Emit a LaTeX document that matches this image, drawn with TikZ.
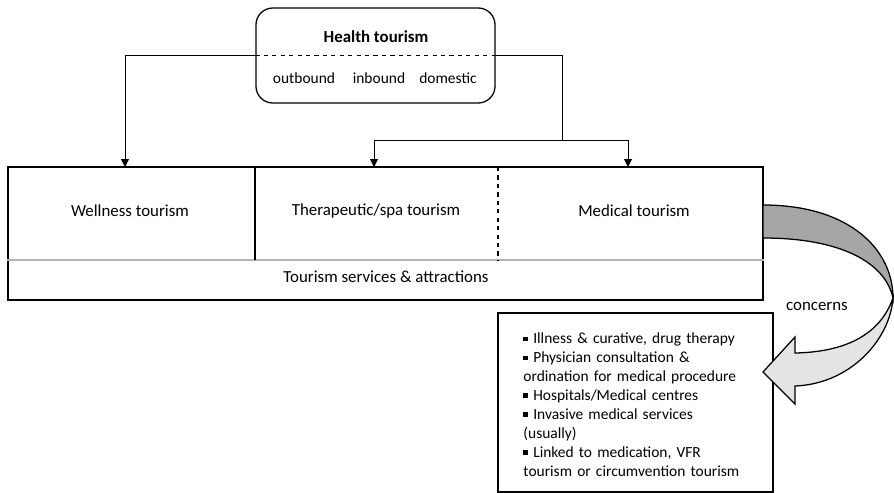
\documentclass[tikz,border=0pt]{standalone}
\usepackage{fontspec}
\setmainfont{Carlito}
\usetikzlibrary{arrows.meta,positioning,calc}
\definecolor{bandDark}{HTML}{A6A6A6}
\definecolor{bandLight}{HTML}{E4E4E4}
\newcommand{\sqbullet}{\rule[0.3ex]{0.3em}{0.3em}\ }

\begin{document}
\begin{tikzpicture}[x=0.025cm, y=-0.025cm,
    frame/.style={draw, line width=0.9pt, inner sep=0pt},
    label/.style={font=\fontsize{12}{14}\selectfont},
    small/.style={font=\fontsize{11}{13.5}\selectfont},
    arrow/.style={-{Triangle[length=2mm,width=2mm]}, line width=0.7pt}
]
\useasboundingbox (0,0) rectangle (894,493);

% Health tourism at top
\node[frame, rounded corners=12pt, minimum width=5.975cm, minimum height=2.375cm] (health) at (375.5,55.5) {};
\node[label, font=\fontsize{12}{14}\selectfont\bfseries] (htitle) at (376,37) {Health tourism};
\node[small] (outb) at (304,78) {outbound};
\node[small] (inb) at (379,78) {inbound};
\node[small] (dom) at (448,78) {domestic};
\draw[dashed, line width=0.9pt] (health.west) -- (health.east);

% Main box with the three forms
\node[frame, minimum width=18.875cm, minimum height=3.325cm] (offer) at (385.5,233.5) {};
\node[label] (wellness) at (130,211) {Wellness tourism};
\node[label] (therapy) at (376,211) {Therapeutic/spa tourism};
\node[label] (medical) at (634,211) {Medical tourism};
\node[label] (services) at (386,277) {Tourism services \& attractions};
\coordinate (divL) at (offer.west |- 0,260);
\coordinate (divR) at (offer.east |- 0,260);
\draw[gray!60, line width=0.9pt] (divL) -- (divR);
\draw[line width=1.4pt] (255,167) -- (255,260);
\draw[dashed, line width=0.8pt] (498,167) -- (498,260);

% Connectors from health tourism
\coordinate (inW) at (125,167);
\coordinate (inT) at (374,167);
\coordinate (inM) at (628,167);
\coordinate (split) at (562,140);
\draw[arrow] (health.west) -| (inW);
\draw[line width=0.7pt] (health.east) -| (split);
\draw[arrow] (split) -| (inT);
\draw[arrow] (split) -| (inM);

% Medical tourism concerns
\node[frame, minimum width=6.875cm, minimum height=4.475cm] (concern) at (635.5,402.5) {};
\node[small, text width=5.6cm, align=left] (items) at (635.5,404.5) {%
\sqbullet Illness \& curative, drug therapy\\
\sqbullet Physician consultation \&\\
ordination for medical procedure\\
\sqbullet Hospitals/Medical centres\\
\sqbullet Invasive medical services\\
(usually)\\
\sqbullet Linked to medication, VFR\\
tourism or circumvention tourism};

% Curved arrow
\filldraw[fill=bandDark, line width=0.9pt] (763,205) .. controls (850,205) and (893,250) .. (893,298)
    .. controls (885,262) and (840,238) .. (763,238) -- cycle;
\filldraw[fill=bandLight, line width=0.9pt] (893,298) .. controls (880,335) and (845,352) .. (795,353)
    -- (795,337) -- (763,372) -- (795,404) -- (795,386)
    .. controls (850,384) and (890,340) .. (893,298) -- cycle;
\node[label] (concerns) at (817,306) {concerns};
\end{tikzpicture}
\end{document}
